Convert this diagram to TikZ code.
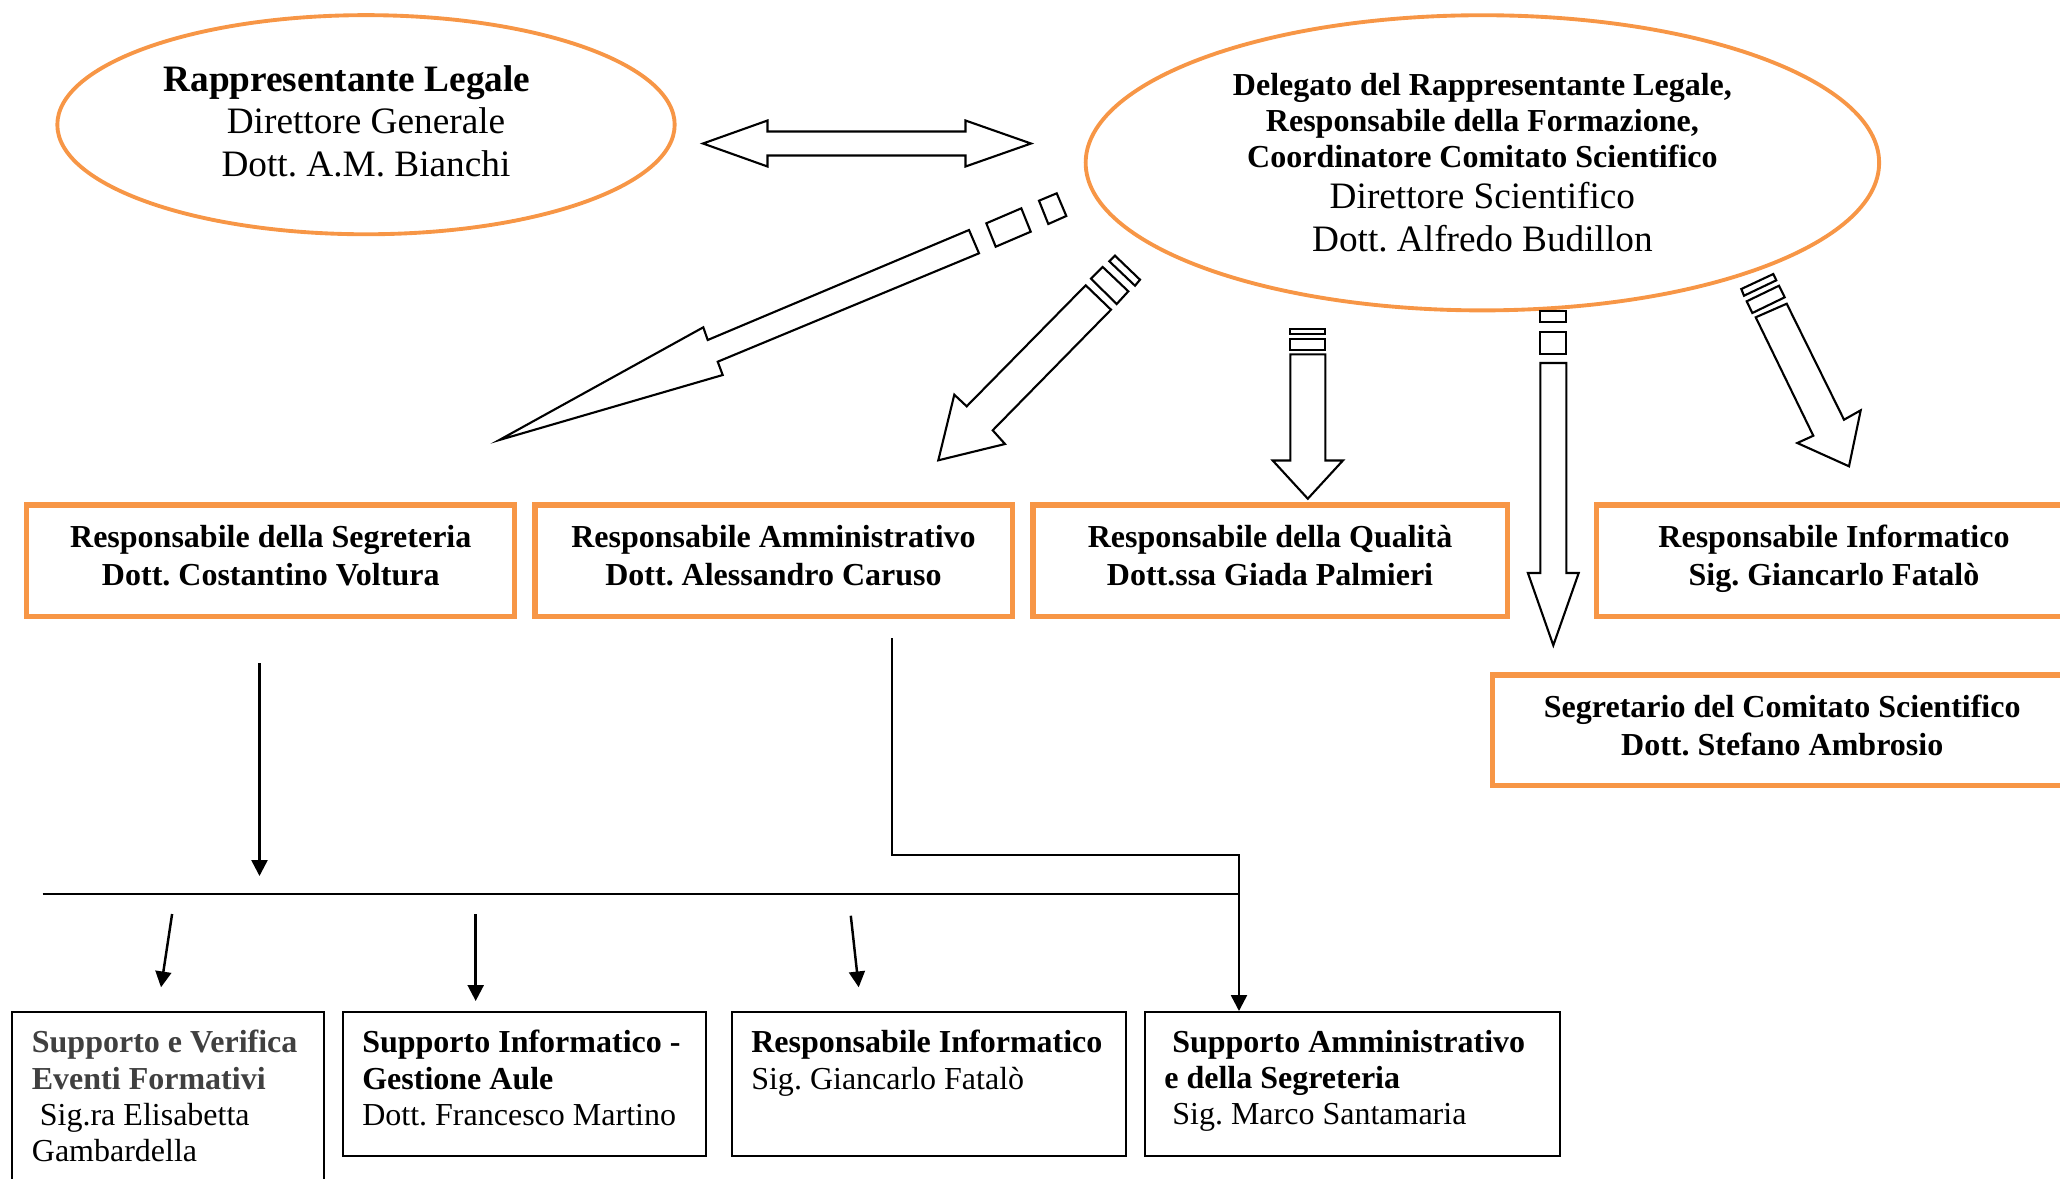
\documentclass[tikz,border=0pt]{standalone}
\usepackage{fontspec}
\setmainfont{Liberation Serif}
\usepackage{xcolor}
\usetikzlibrary{shapes.geometric, arrows.meta}
\frenchspacing

\definecolor{arancio}{HTML}{F79646}
\definecolor{grigio}{HTML}{404040}

\tikzset{
  ovale/.style={ellipse, draw=arancio, line width=1.1pt, inner sep=0pt, align=center},
  riquadro/.style={draw=arancio, line width=1.5pt, inner sep=0pt, align=center, text depth=3pt,
    minimum height=1.115cm, font=\fontsize{9.1}{10.7}\selectfont\bfseries},
  cornice/.style={draw, line width=0.6pt, inner sep=0pt, anchor=north west, minimum height=1.44cm},
  testo/.style={inner sep=0pt, anchor=north west, align=left, font=\fontsize{9.1}{10.27}\selectfont},
  freccia/.style={line width=0.7pt, -{Triangle[length=4.5pt,width=4.5pt]}},
  blocco/.style={draw, line width=0.6pt, line join=miter}
}

\begin{document}
\begin{tikzpicture}[x=0.01cm, y=-0.01cm]
  \useasboundingbox (0,0) rectangle (2060,1178);
  \clip (0,0) rectangle (2060,1178);

  % Ellissi
  \node[ovale, minimum width=6.17cm, minimum height=2.19cm, text depth=2.3pt,
    font=\fontsize{10.6}{12.1}\selectfont] (legale) at (366,124.7)
    {{\bfseries Rappresentante Legale}\hspace*{0.38cm}\\ Direttore Generale\\ Dott. A.M. Bianchi};
  \node[ovale, minimum width=7.93cm, minimum height=2.95cm, font=\fontsize{9.1}{10.3}\selectfont]
    (delegato) at (1482.4,162.8)
    {\textbf{Delegato del Rappresentante Legale,}\\
     \textbf{Responsabile della Formazione,}\\
     \textbf{Coordinatore Comitato Scientifico}\\[1.3pt]
     {\fontsize{10.6}{12.3}\selectfont Direttore Scientifico}\\[2pt]
     {\fontsize{10.6}{12.3}\selectfont Dott. Alfredo Budillon}};

  % Freccia doppia
  \draw[blocco] (703,143.5) -- (767.5,120.5) -- (767.5,131.5) -- (965.5,131.5) -- (965.5,120.5)
    -- (1031,143.5) -- (965.5,166.5) -- (965.5,155.5) -- (767.5,155.5) -- (767.5,166.5) -- cycle;

  % Frecce a strisce
  \draw[blocco] (969,230) -- (707.7,340) -- (703.3,327.3) -- (499.3,440) -- (722.7,375)
    -- (717.7,361.7) -- (979,253.3) -- cycle;
  \draw[blocco] (986.3,223.3) -- (1021.3,208.3) -- (1030.7,231.7) -- (995.7,246.7) -- cycle;
  \draw[blocco] (1039,200.7) -- (1056.7,193.3) -- (1066.3,216) -- (1048.3,224) -- cycle;

  \draw[blocco] (1085.7,285.3) -- (966.7,406.3) -- (954.3,394.7) -- (938.3,460.3) -- (1005,444)
    -- (992.7,430.3) -- (1111,309.7) -- cycle;
  \draw[blocco] (1091,278.7) -- (1102.7,267) -- (1128.3,291.3) -- (1116.7,304) -- cycle;
  \draw[blocco] (1109.3,261.3) -- (1115,255.7) -- (1140,279.7) -- (1135,285.7) -- cycle;

  \foreach \xa/\xb/\ya/\yb/\yc/\yd/\ye/\yh/\yt/\hw in
    {1290.3/1325.3/328.7/334.3/339.3/350.3/354.3/460.5/498.7/17.6,
     1540.3/1566.3/311.3/322/332/353.7/363/573/645.3/12.4} {
    \draw[blocco] (\xa,\ya) rectangle (\xb,\yb);
    \draw[blocco] (\xa,\yc) rectangle (\xb,\yd);
    \draw[blocco] (\xa,\ye) -- (\xa,\yh) -- (\xa-\hw,\yh) -- ({(\xa+\xb)/2},\yt)
      -- (\xb+\hw,\yh) -- (\xb,\yh) -- (\xb,\ye) -- cycle;
  }

  \draw[blocco] (1755.7,317.3) -- (1813.3,435.7) -- (1797.3,443) -- (1849,466.3) -- (1860.7,410.3)
    -- (1844,419.7) -- (1786.7,303.7) -- cycle;
  \draw[blocco] (1746.7,301.3) -- (1779,285.7) -- (1784.7,297.3) -- (1752.3,313) -- cycle;
  \draw[blocco] (1741.3,289) -- (1773.3,274) -- (1776.3,280.3) -- (1744,295.7) -- cycle;

  % Riquadri arancioni
  \node[riquadro, minimum width=4.875cm] (segreteria) at (270.75,560.75)
    {Responsabile della Segreteria\\ Dott. Costantino Voltura};
  \node[riquadro, minimum width=4.77cm] (amministrativo) at (773.5,560.75)
    {Responsabile Amministrativo\\ Dott. Alessandro Caruso};
  \node[riquadro, minimum width=4.74cm] (qualita) at (1270,560.75)
    {Responsabile della Qualità\\ Dott.ssa Giada Palmieri};
  \node[riquadro, minimum width=4.75cm] (informatico) at (1834,560.75)
    {Responsabile Informatico\\ Sig. Giancarlo Fatalò};
  \node[riquadro, minimum width=5.795cm, minimum height=1.105cm] (segretario) at (1782.25,730.25)
    {Segretario del Comitato Scientifico\\ Dott. Stefano Ambrosio};

  % Riquadri in basso
  \node[cornice, minimum width=3.12cm, minimum height=2cm] (verifica) at (11.2,1011) {};
  \node[cornice, minimum width=3.627cm] (aule) at (341.6,1011) {};
  \node[cornice, minimum width=3.94cm] (resinfo) at (730.6,1011) {};
  \node[cornice, minimum width=4.153cm] (supamm) at (1143.6,1011) {};

  \node[testo] (verificat) at ([shift={(20,18.7)}]verifica.north west)
    {{\color{grigio}\bfseries Supporto e Verifica}\\ {\color{grigio}\bfseries Eventi Formativi}\\
     \hspace*{0.25em}Sig.ra Elisabetta\\ Gambardella};
  \node[testo] (aulet) at ([shift={(20,18.7)}]aule.north west)
    {\textbf{Supporto Informatico -}\\ \textbf{Gestione Aule}\\ Dott. Francesco Martino};
  \node[testo] (resinfot) at ([shift={(20,18.7)}]resinfo.north west)
    {\textbf{Responsabile Informatico}\\ Sig. Giancarlo Fatalò};
  \node[testo] (supammt) at ([shift={(20,18.7)}]supamm.north west)
    {\hspace*{0.25em}\textbf{Supporto Amministrativo}\\ \textbf{e della Segreteria}\\
     \hspace*{0.25em}Sig. Marco Santamaria};

  % Collegamenti
  \coordinate (s1) at (259.5,663);
  \coordinate (s2) at (259.5,876);
  \coordinate (a0) at (892.2,638);
  \coordinate (a1) at (1239,855);
  \coordinate (b0) at (42.7,894);
  \draw[freccia] (s1) -- (s2);
  \draw[line width=0.7pt] (b0) -- (b0 -| a1);
  \draw[freccia] (a0) |- (a1) -- (a1 |- supamm.north);

  \coordinate (f1) at (172.1,914);
  \coordinate (f2) at (475.7,914);
  \coordinate (f3) at (850.8,915.7);
  \coordinate (g1) at (161,987.3);
  \coordinate (g2) at (475.7,1001);
  \coordinate (g3) at (858.7,987.3);
  \foreach \i in {1,2,3}
    \draw[freccia] (f\i) -- (g\i);
\end{tikzpicture}
\end{document}
